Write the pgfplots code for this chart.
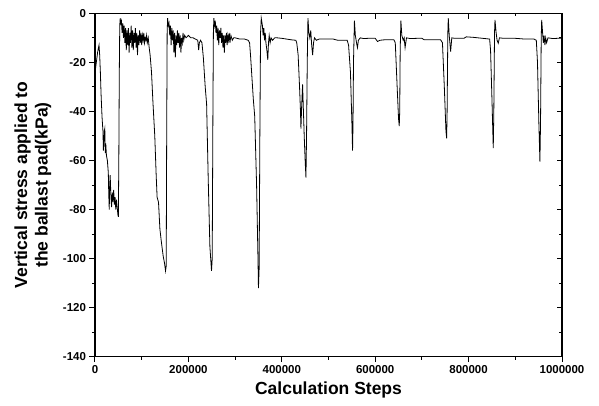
\documentclass[border=0pt]{standalone}
\usepackage{fontspec}
\setmainfont{Liberation Sans}
\usepackage{pgfplots}
\usepackage{pgfplotstable}
\pgfplotsset{compat=1.18}

% vertical stress on the ballast pad vs calculation step
\pgfplotstableread{
step stress
0 -20
1500 -22
3500 -19
5500 -16
7500 -14
8600 -13
10000 -17
11500 -24
13000 -33
15000 -42
17000 -48
18000 -56
19000 -52
20000 -48
21000 -47
22000 -57
23000 -53
24500 -58
26500 -60
28500 -65
29500 -74
30500 -80
31500 -70
32500 -66
34000 -74
35500 -79
37000 -73
38500 -77
40000 -72
41500 -78
43000 -75
44500 -80
46000 -76
47500 -79
49000 -82
50000 -83
51000 -60
52000 -25
53000 -5
54000 -2
55000 -4
56500 -3
58000 -8
59500 -4
61000 -10
62500 -5
64000 -12
65500 -6
67000 -15
68500 -7
70000 -13
71500 -6
73000 -16
74500 -8
76000 -12
77500 -5
79000 -14
80500 -7
82000 -15
83500 -8
85000 -12
86500 -6
88000 -14
89500 -8
91000 -17
92500 -9
94000 -13
95500 -7
97000 -12
98500 -8
100000 -13
101500 -9
103000 -11
104500 -8
106000 -12
107500 -10
109000 -11
110500 -9
112000 -12
114000 -10
116000 -14
118000 -17
121000 -24
124000 -36
128000 -50
131000 -66
133000 -75
136000 -77
139000 -88
142000 -93
146000 -99
149000 -102
151000 -105
152500 -103
153500 -50
154500 -8
155500 -2
157000 -5
158500 -4
160000 -9
161500 -5
163000 -13
164500 -6
166000 -11
167500 -7
169000 -16
170500 -8
172000 -18
173500 -9
175000 -13
176500 -7
178000 -12
179500 -8
181000 -14
182500 -9
184000 -16
185500 -10
187000 -12
188500 -8
190000 -11
192000 -9
195000 -10
200000 -9
205000 -10
210000 -10
215000 -10.5
220000 -11
222000 -15
223500 -12
226000 -11
229000 -12
232000 -18
236000 -30
239000 -37
242500 -68
246000 -95
249500 -105
251000 -100
252500 -40
253500 -8
254500 -2
256000 -5
257500 -3
259000 -8
260500 -5
262000 -11
263500 -6
265000 -13
266500 -7
268000 -10
269500 -6
271000 -12
272500 -8
274000 -14
275500 -9
277000 -16
278500 -9
280000 -12
281500 -8
283000 -13
284500 -9
286000 -11
287500 -8
289000 -12
291000 -9
294000 -11
297000 -10
300000 -10
310000 -10.5
320000 -10.5
328000 -11
331000 -12
333000 -17
336000 -26
339000 -35
342000 -42
346000 -70
349000 -100
350000 -112
351500 -104
353000 -50
354500 -8
356000 -2
358500 -5
360000 -9
361500 -6
363000 -11
364500 -8
366000 -12
368000 -15
370000 -19
371500 -12
373000 -9
375000 -12
377000 -10
380000 -11
385000 -10
390000 -10
400000 -10.2
410000 -10.5
420000 -10.8
430000 -11
432000 -12
435000 -17
438000 -30
440000 -40
441000 -47
442500 -38
444500 -29
446000 -38
448000 -50
450000 -60
451700 -67
453000 -50
454500 -20
456000 -2
458000 -8
460000 -10
462000 -7
464000 -13
466000 -17
468000 -12
470000 -10
474000 -11
480000 -10.5
490000 -10.5
500000 -10.5
510000 -10.5
520000 -11
530000 -11
540000 -11
543000 -13
547000 -24
550000 -44
551500 -56
552500 -45
553500 -20
555500 -3
557500 -9
560000 -12
562000 -14
564000 -11
568000 -10
575000 -10.3
585000 -10.2
600000 -10.2
605000 -11.5
610000 -11
620000 -10.8
630000 -10.8
640000 -10.8
643000 -12
647000 -30
650000 -43
651500 -46
652500 -40
653500 -15
655000 -3
657000 -9
660000 -11
662000 -10
664000 -14
667000 -10
675000 -10.3
690000 -10.2
700000 -10.2
705000 -10.8
720000 -10.8
740000 -10.8
744000 -12
748000 -30
751500 -48
753000 -51
754000 -40
755500 -8
756500 -2
758500 -9
761500 -15.6
764000 -10
770000 -10.2
780000 -10.2
790000 -10.2
795000 -9.6
810000 -9.8
830000 -10.2
845000 -10.5
847000 -15
850000 -35
852800 -55
854000 -40
855500 -8
856500 -2.7
859000 -8
861000 -11
863500 -12.2
866000 -10
875000 -10.2
900000 -10.2
920000 -10.5
940000 -10.5
945000 -11
947500 -20
950500 -45
952700 -60.5
954000 -45
955500 -10
956500 -2.7
958500 -8
960000 -12
961500 -9
963500 -13
965000 -10
967000 -12
970000 -10
980000 -10.3
990000 -10.2
1000000 -10.2
}\stressdata

\begin{document}
\begin{tikzpicture}
\useasboundingbox (-95pt,-48.3pt) rectangle (504pt,356.7pt);
\pgfplotsset{
  base/.style={
    width=467pt, height=343.4pt, scale only axis,
    at={(0,0)}, anchor=south west,
    xmin=0, xmax=1000000, ymin=-140, ymax=0,
    xtick={0,200000,400000,600000,800000,1000000},
    ytick={-140,-120,-100,-80,-60,-40,-20,0},
    scaled ticks=false,
    minor x tick num=1, minor y tick num=1,
    axis line style={line width=1.1pt},
    major tick length=5.5pt, minor tick length=3pt,
    every tick/.style={black, line width=1pt},
  }
}
% top and right ticks point inwards
\begin{axis}[base, tick align=inside, xtick pos=right, ytick pos=right,
  xticklabels={}, yticklabels={}]
\end{axis}
\begin{axis}[base, tick align=outside, tick pos=left,
  ticklabel style={font=\bfseries\fontsize{11.5}{13}\selectfont},
  xticklabel style={/pgf/number format/fixed, /pgf/number format/1000 sep={}},
  /pgf/number format/assume math mode=true,
  xlabel={Calculation Steps},
  ylabel={Vertical stress applied to\\the ballast pad(kPa)},
  label style={font=\bfseries\fontsize{17.5}{20.5}\selectfont},
  xlabel style={at={(axis description cs:0.5,-0.097)}, anchor=center},
  ylabel style={align=center, at={(axis description cs:-0.133,0.5)}, anchor=center},
]
\addplot[black, line width=0.8pt] table[x=step, y=stress] {\stressdata};
\end{axis}
\end{tikzpicture}
\end{document}
